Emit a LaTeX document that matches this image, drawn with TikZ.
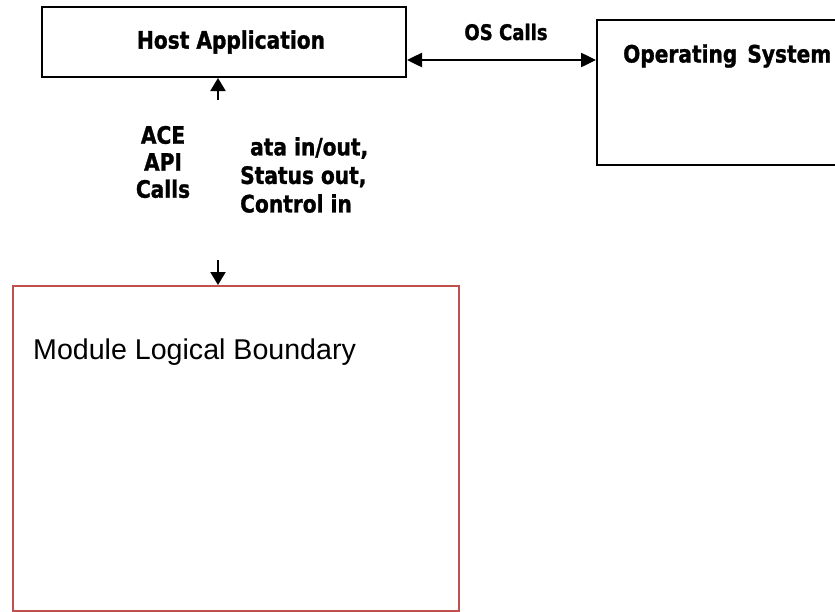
\documentclass[tikz,border=0pt]{standalone}
\usepackage{fontspec}
\usetikzlibrary{arrows.meta}
\newfontfamily\tah[FakeStretch=0.84,FakeBold=1.2]{DejaVu Sans}
\setmainfont{Liberation Sans}
\definecolor{boundred}{RGB}{192,80,77}
\begin{document}
\begin{tikzpicture}[x=1pt,y=-1pt,
  box/.style={draw=black,line width=2pt,inner sep=0pt},
  lbl/.style={font=\tah\bfseries\fontsize{24}{28.5}\selectfont,inner sep=0pt},
  conn/.style={line width=2pt,-{Triangle[length=13pt,width=15pt]}},
  bconn/.style={line width=2.5pt,{Triangle[length=15pt,width=14pt]}-{Triangle[length=15pt,width=14pt]}}]
\useasboundingbox (0,0) rectangle (835,611);
\node[box,minimum width=364pt,minimum height=70pt,lbl] (host) at (224,42) {\hspace{14pt}Host Application};
\node[box,minimum width=300pt,minimum height=145pt,anchor=north west] (os) at (596,19) {};
\node[lbl,anchor=west] (ostxt) at (623,56) {Operating\hspace{3pt} System};
\node[draw=boundred,line width=2pt,minimum width=446pt,minimum height=325pt,anchor=north west,inner sep=0pt] (module) at (12,285) {};
\node[anchor=west,inner sep=0pt,font=\fontsize{28.6}{32}\selectfont] (modtxt) at (33,352) {Module Logical Boundary};
\node[lbl,font=\tah\bfseries\fontsize{21.5}{25}\selectfont] (oscalls) at (506,32) {OS Calls};
\node[lbl,align=center,font=\tah\bfseries\fontsize{24}{27}\selectfont] (ace) at (163,162) {ACE\\API\\Calls};
\node[lbl,align=left,anchor=north west] (data) at (240,137) {\hspace{10pt}ata in/out,\\Status out,\\Control in};
\coordinate (upstart) at (218,100);
\coordinate (downstart) at (218,260);
\draw[bconn] ([yshift=-18]host.east) -- ([yshift=-18]host.east -| os.west);
\draw[conn] (upstart) -- (upstart |- host.south);
\draw[conn] (downstart) -- (downstart |- module.north);
\end{tikzpicture}
\end{document}
